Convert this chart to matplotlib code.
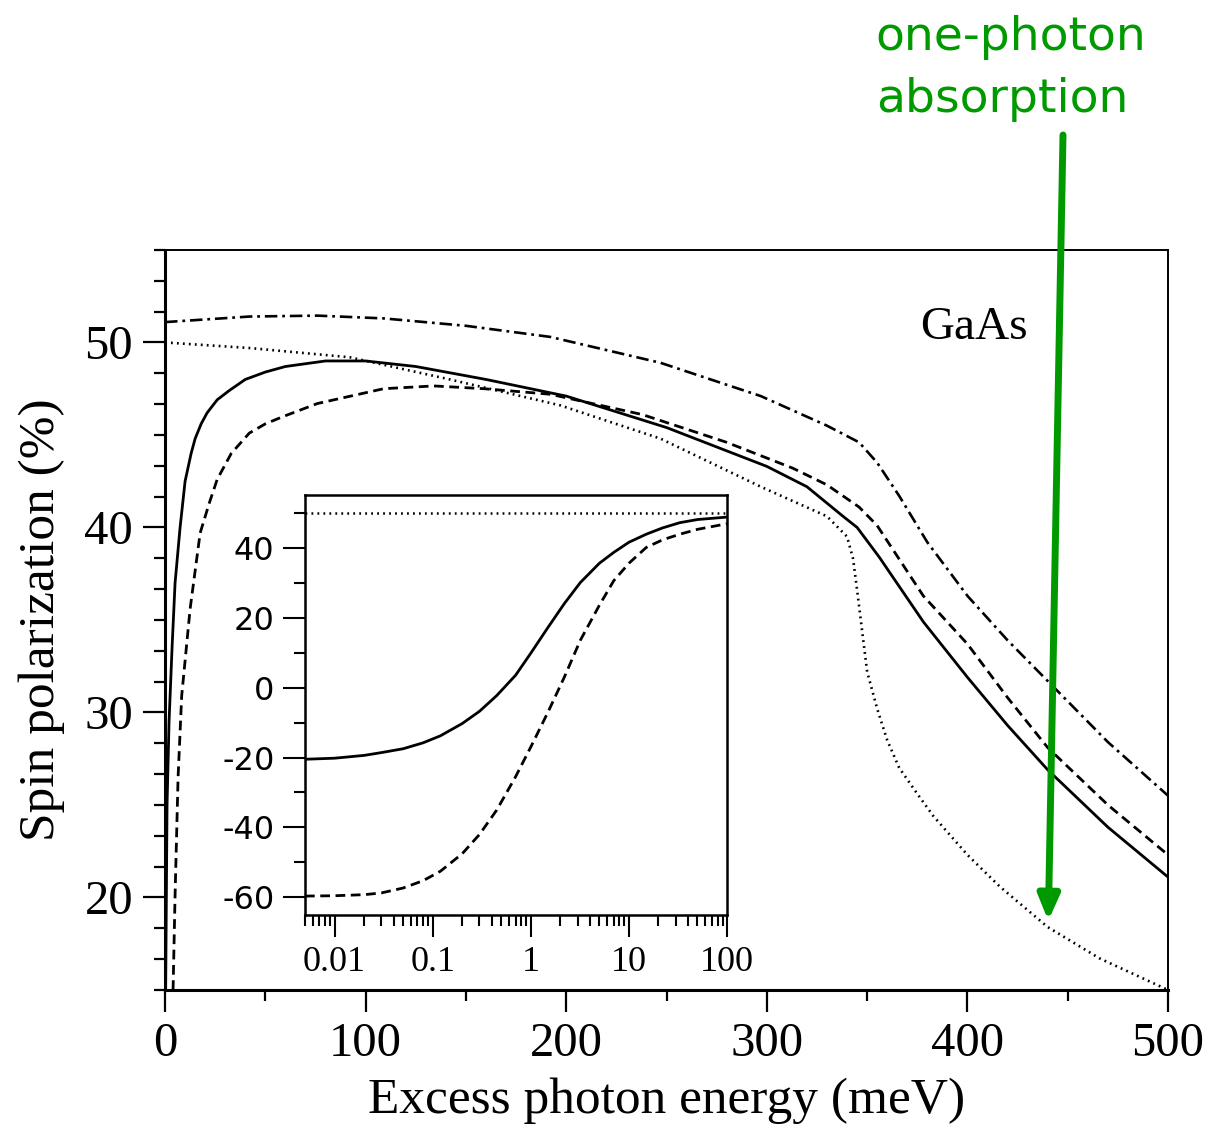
import numpy as np
import matplotlib
matplotlib.use("Agg")
import matplotlib.pyplot as plt
from matplotlib.ticker import MultipleLocator, LogLocator, NullFormatter, FixedLocator

plt.rcParams['lines.scale_dashes'] = False
plt.rcParams['axes.unicode_minus'] = False

# main panel: spin polarization vs excess photon energy (GaAs)
solid_E = [0.3, 1, 2, 3.5, 5, 7.5, 10, 13, 15, 18, 21, 26, 32, 40, 50, 60, 80, 100, 125,
           160, 200, 250, 300, 320, 338, 345, 356, 378, 400, 420, 440, 470, 500]
solid_P = [15, 25, 29.5, 33.5, 37, 40, 42.5, 44, 44.8, 45.6, 46.2, 46.9, 47.4, 48, 48.4,
           48.7, 49, 49, 48.7, 48, 47.1, 45.4, 43.3, 42.2, 40.6, 40, 38.4, 34.9, 31.9,
           29.3, 26.9, 23.8, 21.1]

dashed_E = [4, 5, 6.5, 8.3, 12.5, 17.5, 22, 26, 33, 42, 50, 59, 76, 109, 134, 159, 192,
            238, 280, 313, 330, 346, 355, 378, 400, 420, 440, 470, 500]
dashed_P = [15, 20.1, 26.5, 30.9, 35.6, 39.7, 41.3, 42.6, 44.0, 45.1, 45.6, 46.0, 46.7,
            47.5, 47.65, 47.5, 47.2, 46.1, 44.6, 43.2, 42.3, 41.1, 40.1, 36.3, 33.7,
            30.8, 28.1, 25.0, 22.3]

dashdot_E = [0, 42, 76, 109, 150, 192, 247, 297, 330, 346, 355, 366, 380, 400, 420, 440,
             470, 500]
dashdot_P = [51.1, 51.4, 51.45, 51.3, 50.9, 50.3, 48.9, 47.1, 45.5, 44.6, 43.5, 41.7,
             39.2, 36.3, 33.9, 31.7, 28.4, 25.5]

dotted_E = [0, 42, 92, 142, 197, 247, 297, 330, 340, 343, 345, 350, 355, 360, 366, 375,
            383, 400, 416, 440, 466, 500]
dotted_P = [50, 49.7, 49.2, 48, 46.6, 44.8, 42.2, 40.6, 39.5, 38.3, 36.6, 32.2, 30.2,
            28.5, 27.0, 25.6, 24.4, 22.3, 20.6, 18.4, 16.7, 15]

# inset: log energy scale
ins_E = [0.005, 0.01, 0.02, 0.03, 0.05, 0.08, 0.12, 0.2, 0.3, 0.45, 0.7, 1.0, 1.5, 2.2,
         3.2, 5, 7, 10, 15, 22, 33, 50, 100]
ins_solid = [-20.5, -20.2, -19.4, -18.6, -17.5, -15.8, -13.8, -10.3, -6.8, -2.3, 3.5,
             9.8, 17.2, 24.0, 30.0, 35.5, 38.6, 41.5, 43.8, 45.6, 47.1, 48.0, 48.7]
ins_dashed = [-59.6, -59.5, -59.2, -58.7, -57.3, -55.2, -52.5, -47.5, -42.0, -35.0,
              -25.5, -17.0, -7.0, 3.0, 13.5, 23.5, 30.5, 35.5, 40.0, 42.2, 43.8, 45.2,
              46.8]
ins_dotted = [50] * len(ins_E)

x_ticks = [0, 100, 200, 300, 400, 500]
y_ticks = [20, 30, 40, 50]
ins_yticks = [-60, -40, -20, 0, 20, 40]
ins_xticks = [0.01, 0.1, 1, 10, 100]
ins_xlabels = ['0.01', '0.1', '1', '10', '100']

green = '#009a00'
serif = 'Liberation Serif'

fig = plt.figure(figsize=(12.18, 11.31), dpi=100)
ax = fig.add_axes([0.1355, 0.1247, 0.8235, 0.6543])

ax.plot(solid_E, solid_P, color='black', lw=2.0)
ax.plot(dashed_E, dashed_P, color='black', lw=2.0, linestyle=(0, (7, 4)))
ax.plot(dashdot_E, dashdot_P, color='black', lw=1.9, linestyle=(0, (9, 3.5, 2, 3.5)))
ax.plot(dotted_E, dotted_P, color='black', lw=1.9, linestyle=(0, (1.3, 3)))

ax.set_xlim(0, 500)
ax.set_ylim(15, 55)
ax.set_xticks(x_ticks)
ax.set_yticks(y_ticks)
ax.xaxis.set_minor_locator(MultipleLocator(50))
ax.yaxis.set_minor_locator(MultipleLocator(10 / 6))
ax.tick_params(which='major', direction='out', length=16, width=1.6, pad=7,
               labelsize=35, top=False, right=False)
ax.tick_params(which='minor', direction='out', length=8, width=1.6, top=False, right=False)
for lab in ax.get_xticklabels() + ax.get_yticklabels():
    lab.set_fontfamily(serif)
for s in ax.spines.values():
    s.set_linewidth(1.4)
ax.spines['left'].set_linewidth(2.2)
ax.spines['bottom'].set_linewidth(2.2)

ax.set_xlabel('Excess photon energy (meV)', fontsize=37, family=serif, labelpad=8)
ax.set_ylabel('Spin polarization (%)', fontsize=37, family=serif, labelpad=14)
ax.text(0.806, 0.895, 'GaAs', transform=ax.transAxes, fontsize=34, family=serif,
        ha='center', va='center')

# inset
ins = fig.add_axes([0.2504, 0.191, 0.3465, 0.3713])
ins.plot(ins_E, ins_solid, color='black', lw=2.0)
ins.plot(ins_E, ins_dashed, color='black', lw=2.0, linestyle=(0, (7, 4)))
ins.plot(ins_E, ins_dotted, color='black', lw=1.8, linestyle=(0, (1.3, 3)))
ins.set_xscale('log')
ins.set_xlim(0.005, 100)
ins.set_ylim(-65, 55)
ins.xaxis.set_major_locator(FixedLocator(ins_xticks))
ins.set_xticklabels(ins_xlabels)
ins.xaxis.set_minor_locator(LogLocator(base=10, subs=np.arange(2, 10)))
ins.xaxis.set_minor_formatter(NullFormatter())
ins.set_yticks(ins_yticks)
ins.yaxis.set_minor_locator(MultipleLocator(10))
ins.tick_params(which='major', direction='out', length=16, width=1.5, pad=6,
                top=False, right=False)
ins.tick_params(which='minor', direction='out', length=8, width=1.5, top=False, right=False)
for lab in ins.get_xticklabels():
    lab.set_fontfamily(serif)
    lab.set_fontsize(26)
for lab in ins.get_yticklabels():
    lab.set_fontfamily('DejaVu Sans')
    lab.set_fontsize(23)
for s in ins.spines.values():
    s.set_linewidth(1.8)

# green annotation
fig.text(0.719, 0.987, 'one-photon\nabsorption', color=green, fontsize=34,
         family='DejaVu Sans', ha='left', va='top', linespacing=1.5)
ax.annotate('', xy=(440.3, 18.74), xycoords='data',
            xytext=(1063, 1131 - 135), textcoords='figure pixels',
            arrowprops=dict(arrowstyle='-|>,head_length=0.75,head_width=0.32',
                            mutation_scale=20, lw=5, color=green,
                            shrinkA=0, shrinkB=0),
            annotation_clip=False)

fig.savefig('out.png', dpi=100)
